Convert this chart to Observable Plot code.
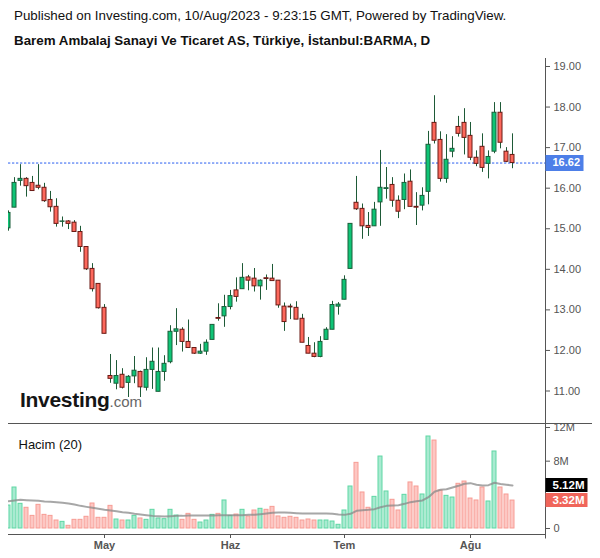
<!DOCTYPE html>
<html>
<head>
<meta charset="utf-8">
<script src="https://cdn.jsdelivr.net/npm/d3@7"></script>
<script src="https://cdn.jsdelivr.net/npm/@observablehq/plot@0.6"></script>
<style>
  body { margin: 0; background: #fff; font-family: "Liberation Sans", Arial, sans-serif; }
  #wrap { position: relative; width: 600px; height: 558px; overflow: hidden; background: #fff; }
  .t { position: absolute; left: 14px; font-size: 13.35px; line-height: 16px; white-space: nowrap; color: #111; }
  #t1 { top: 8px; }
  #t2 { top: 33px; font-weight: bold; }
  #price { position: absolute; left: 0; top: 58px; }
  #vol { position: absolute; left: 0; top: 423px; }
  svg { overflow: visible; }
</style>
</head>
<body>
<div id="wrap">
  <div class="t" id="t1">Published on Investing.com, 10/Aug/2023 - 9:23:15 GMT, Powered by TradingView.</div>
  <div class="t" id="t2">Barem Ambalaj Sanayi Ve Ticaret AS, Türkiye, İstanbul:BARMA, D</div>
  <div id="price"></div>
  <div id="vol"></div>
</div>
<script>
// ---- Data (daily bars, 6 Apr 2023 – 10 Aug 2023) ----
const opens = [15.01,15.52,16.18,16.23,16.13,16.06,16.01,15.71,15.54,15.17,
  15.18,15.15,14.92,14.55,14.01,13.64,13.05,11.37,11.18,11.40,
  11.20,11.36,11.47,11.08,11.52,10.98,11.47,11.71,12.46,12.51,
  12.21,12.06,11.92,11.97,12.26,12.80,12.84,13.07,13.48,13.51,
  13.80,13.77,13.58,13.78,13.77,13.72,13.08,13.08,13.05,12.78,
  12.11,11.92,11.84,12.26,12.51,13.08,13.25,14.01,15.64,15.49,
  15.07,15.06,15.65,15.98,16.08,15.69,15.71,16.16,15.54,15.57,
  15.91,17.61,17.19,16.23,16.90,17.51,17.61,17.29,16.75,17.02,
  16.60,16.90,17.86,16.90,16.82];
const highs = [15.44,16.26,16.58,16.26,16.29,16.58,16.12,15.92,15.74,15.29,
  15.20,15.20,15.06,14.55,14.14,13.64,13.13,11.90,11.75,11.55,
  11.38,11.85,11.49,11.82,12.06,12.06,11.87,12.61,13.03,12.56,
  12.75,12.06,12.15,12.26,12.63,13.15,13.36,13.48,13.79,14.14,
  13.85,14.02,13.74,13.86,14.12,13.72,13.17,13.14,13.20,12.89,
  12.32,12.19,12.34,12.56,13.21,13.18,13.84,15.12,16.29,15.61,
  15.40,15.65,16.93,16.51,16.26,15.81,16.35,16.45,15.89,16.01,
  17.40,18.28,17.39,17.32,17.27,17.77,17.96,17.62,16.92,17.34,
  16.92,18.11,18.11,17.00,17.34];
const lows = [14.94,15.52,16.05,15.78,15.93,15.96,15.65,15.41,15.04,15.04,
  14.98,14.92,14.42,13.97,13.44,13.02,12.41,11.19,11.03,11.05,
  10.84,11.18,10.84,11.00,11.04,10.98,11.24,11.67,12.12,11.96,
  12.06,11.90,11.90,11.88,12.26,12.72,12.57,13.00,13.19,13.51,
  13.47,13.44,13.24,13.48,13.72,13.04,12.47,12.76,12.76,12.19,
  11.92,11.82,11.82,12.26,12.51,12.87,13.25,14.01,15.45,14.74,
  14.81,15.06,15.06,15.73,15.53,15.25,15.47,15.54,15.08,15.44,
  15.59,17.09,16.15,16.12,16.75,17.26,16.82,16.68,16.53,16.39,
  16.23,16.85,16.97,16.63,16.48];
const closes = [15.39,16.13,16.23,16.05,15.93,16.01,15.68,15.53,15.12,15.18,
  15.12,14.92,14.55,14.00,13.51,13.04,12.41,11.30,11.37,11.08,
  11.35,11.50,11.09,11.52,11.72,11.47,11.67,12.46,12.52,12.21,
  12.06,11.92,11.97,12.19,12.63,12.78,13.07,13.34,13.32,13.79,
  13.72,13.58,13.72,13.76,13.71,13.11,12.70,13.06,12.76,12.19,
  11.92,11.84,12.21,12.51,13.12,13.13,13.74,15.12,15.48,15.06,
  15.02,15.47,16.01,16.00,15.69,15.42,16.13,15.54,15.52,15.81,
  17.07,17.17,16.23,16.70,16.97,17.34,17.24,16.75,16.60,16.50,
  16.77,17.86,17.12,16.65,16.62];
// volume in millions
const volumes = [2.73,4.87,2.93,2.46,1.50,2.81,1.62,1.50,0.95,0.79,
  0.32,1.03,1.03,1.39,2.97,1.27,1.27,2.69,1.07,0.95,
  0.95,1.50,1.19,1.03,2.22,1.19,1.11,2.22,1.54,1.03,
  1.74,1.03,0.71,0.95,1.62,1.74,3.33,1.50,1.66,2.22,
  1.43,2.14,2.34,2.22,2.57,1.43,1.27,1.39,1.27,0.95,
  1.07,0.95,0.95,0.95,0.83,0.44,2.14,4.99,7.80,4.28,
  2.46,3.76,8.55,4.40,3.41,2.14,4.00,5.47,4.99,4.04,
  10.93,10.45,4.51,3.88,3.68,5.31,5.58,3.56,3.33,4.87,
  3.21,9.15,4.87,4.04,3.32];
// 20-day volume moving average, millions
const volumeMA = [3.25,3.33,3.41,3.37,3.33,3.29,3.21,3.17,3.13,3.05,
  2.97,2.85,2.69,2.57,2.46,2.34,2.22,2.14,2.06,1.94,
  1.86,1.74,1.66,1.58,1.50,1.46,1.43,1.46,1.50,1.50,
  1.54,1.54,1.54,1.54,1.54,1.58,1.58,1.58,1.58,1.58,
  1.62,1.62,1.70,1.78,1.86,1.90,1.90,1.86,1.82,1.78,
  1.78,1.78,1.78,1.78,1.74,1.66,1.62,1.74,2.10,2.18,
  2.22,2.30,2.53,2.69,2.73,2.77,2.93,3.13,3.25,3.33,
  3.72,4.36,4.60,4.67,4.87,5.07,5.31,5.39,5.19,5.11,
  5.15,5.43,5.28,5.20,5.12];
const monthLabels = ["May", "Haz", "Tem", "Ağu"];
const monthBarIndex = [16, 37, 56, 77];
const priceTicks = [11, 12, 13, 14, 15, 16, 17, 18, 19];
const volumeTicks = [0, 8, 12];

// ---- Styling ----
const FONT = '"Liberation Sans", Arial, sans-serif';
const upFill = "#0fc476", upStroke = "#1b5e3a";
const downFill = "#fd685c", downStroke = "#6a1a15";
const wickColor = "#1e5a37";
const volUpFill = "#a9ead1", volUpStroke = "#5fd7a4";
const volDownFill = "#fdc7c3", volDownStroke = "#f79c94";
const axisColor = "#555";

const bars = d3.range(closes.length).map(i => ({
  i, o: opens[i], h: highs[i], l: lows[i], c: closes[i],
  v: volumes[i], m: volumeMA[i], up: closes[i] >= opens[i]
}));
const last = bars[bars.length - 1];
const xDomain = [0, (545 - 8) / 6];

function decor(draw) {
  return function (index, scales, values, dimensions) {
    const g = d3.create("svg:g");
    draw(g, scales, dimensions);
    return g.node();
  };
}
function tag(value, label, bg, w, h, fs) {
  return decor((g, s, d) => {
    const y = s.y(value);
    const x = d.width - d.marginRight + 0.5;
    g.append("rect").attr("x", x).attr("y", Math.round(y - h / 2)).attr("width", w).attr("height", h).attr("fill", bg);
    g.append("text").attr("x", x + 7).attr("y", y).attr("dy", "0.36em")
      .attr("text-anchor", "start")
      .attr("fill", "#fff").attr("font-weight", "bold").attr("font-size", fs)
      .attr("font-family", FONT).text(label);
  });
}

// ---- Price pane ----
const price = Plot.plot({
  width: 600, height: 365,
  marginLeft: 8, marginRight: 55, marginTop: 0, marginBottom: 0,
  style: { fontFamily: FONT, color: axisColor, background: "transparent", overflow: "visible" },
  x: { domain: xDomain, axis: null },
  y: { domain: [10.1988, 19.1972], axis: null },
  marks: [
    Plot.ruleY([last.c], { stroke: "#2a5ff0", strokeDasharray: "2.3,1.7", strokeWidth: 1 }),
    Plot.ruleX(bars, { x: "i", y1: "l", y2: "h", stroke: wickColor, strokeWidth: 1, clip: true }),
    Plot.rect(bars, {
      x1: d => d.i - 1 / 3, x2: d => d.i + 1 / 3, y1: "o", y2: "c",
      fill: d => d.up ? upFill : downFill, stroke: d => d.up ? upStroke : downStroke,
      strokeWidth: 1, clip: true
    }),
    Plot.axisY({ anchor: "right", ticks: priceTicks, tickFormat: d => d.toFixed(2),
      tickSize: 4, tickPadding: 4, fontSize: 11, label: null }),
    decor((g, s, d) => {
      const x = d.width - d.marginRight + 0.5;
      g.append("line").attr("x1", x).attr("x2", x).attr("y1", 0).attr("y2", d.height).attr("stroke", axisColor);
    }),
    tag(last.c, last.c.toFixed(2), "#4d7fe8", 38, 16, 11),
    decor((g, s, d) => {
      const t = g.append("text").attr("x", d.marginLeft + 12).attr("y", d.height - 16)
        .attr("text-anchor", "start").attr("font-family", FONT);
      t.append("tspan").attr("font-size", 21).attr("font-weight", "bold").attr("fill", "#151515")
        .attr("letter-spacing", "-0.3").text("Investing");
      t.append("tspan").attr("font-size", 15).attr("fill", "#666").text(".com");
    })
  ]
});
document.getElementById("price").appendChild(price);

// ---- Volume pane ----
const vol = Plot.plot({
  width: 600, height: 135,
  marginLeft: 8, marginRight: 55, marginTop: 0, marginBottom: 24,
  style: { fontFamily: FONT, color: axisColor, background: "transparent", overflow: "visible" },
  x: { domain: xDomain, axis: null },
  y: { domain: [-0.713, 12.475], axis: null },
  marks: [
    Plot.rect(bars, {
      x1: d => d.i - 1 / 3, x2: d => d.i + 1 / 3, y1: 0, y2: "v",
      fill: d => d.up ? volUpFill : volDownFill, stroke: d => d.up ? volUpStroke : volDownStroke,
      strokeWidth: 1, clip: true
    }),
    Plot.line(bars, { x: "i", y: "m", stroke: "#8a8a8a", strokeOpacity: 0.75, strokeWidth: 2, clip: true }),
    Plot.text(["Hacim (20)"], { frameAnchor: "top-left", dx: 10, dy: 16, textAnchor: "start",
      fontSize: 13, fill: "#111" }),
    Plot.axisY({ anchor: "right", ticks: volumeTicks, tickFormat: d => d === 0 ? "0" : d + "M",
      tickSize: 4, tickPadding: 4, fontSize: 11, label: null }),
    Plot.axisX({ anchor: "bottom", ticks: monthBarIndex,
      tickFormat: d => monthLabels[monthBarIndex.indexOf(d)],
      tickSize: 4, tickPadding: 3, fontSize: 11, fontWeight: "bold", label: null }),
    decor((g, s, d) => {
      const xr = d.width - d.marginRight + 0.5;
      const yb = d.height - d.marginBottom + 0.5;
      g.append("line").attr("x1", d.marginLeft).attr("x2", d.width - 8).attr("y1", 0.5).attr("y2", 0.5).attr("stroke", axisColor);
      g.append("line").attr("x1", d.marginLeft).attr("x2", xr).attr("y1", yb).attr("y2", yb).attr("stroke", axisColor);
      g.append("line").attr("x1", xr).attr("x2", xr).attr("y1", 0).attr("y2", yb + 4).attr("stroke", axisColor);
    }),
    tag(last.m, last.m.toFixed(2) + "M", "#000", 42, 14, 11.5),
    tag(last.v, last.v.toFixed(2) + "M", "#f0655a", 42, 14, 11.5)
  ]
});
document.getElementById("vol").appendChild(vol);
</script>
</body>
</html>
